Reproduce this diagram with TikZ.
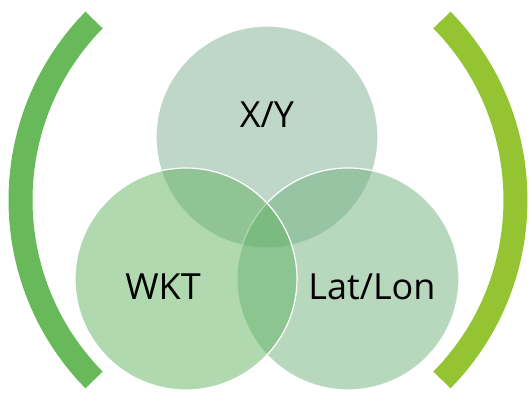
\documentclass[tikz,border=0pt]{standalone}
\usepackage{fontspec}
\setmainfont{Open Sans}
\definecolor{xyfill}{RGB}{127,175,147}
\definecolor{wktfill}{RGB}{97,179,97}
\definecolor{llfill}{RGB}{113,177,125}
\definecolor{leftbar}{RGB}{103,185,90}
\definecolor{rightbar}{RGB}{148,196,50}
\tikzset{
  set/.style={circle,draw=white,line width=1.2pt,minimum size=222pt,inner sep=0pt,fill opacity=.5},
  setname/.style={font=\fontsize{36}{42}\selectfont,inner sep=0pt},
  bracket/.style={line width=24pt}
}
\begin{document}
\begin{tikzpicture}[x=1pt,y=1pt]

      \useasboundingbox (0,0) rectangle (530,398);

      % the three sets
      \node[set,fill=xyfill]  (xy)     at (267,261) {};
      \node[set,fill=llfill]  (latlon) at (348,119) {};
      \node[set,fill=wktfill] (wkt)    at (186,119) {};

      \begin{scope}[every node/.style={setname}]
        \node (xytext)     at (267,283) {X/Y};
        \node (wkttext)    at (163,111) {WKT};
        \node (latlontext) at (372,111) {Lat/Lon};
      \end{scope}

      % brackets
      \draw[bracket,leftbar]  (277.5,198) ++(135.55:257) arc[start angle=135.55,end angle=224.45,radius=257];
      \draw[bracket,rightbar] (258.5,198) ++(-44.45:257) arc[start angle=-44.45,end angle=44.45,radius=257];

    \end{tikzpicture}
\end{document}
